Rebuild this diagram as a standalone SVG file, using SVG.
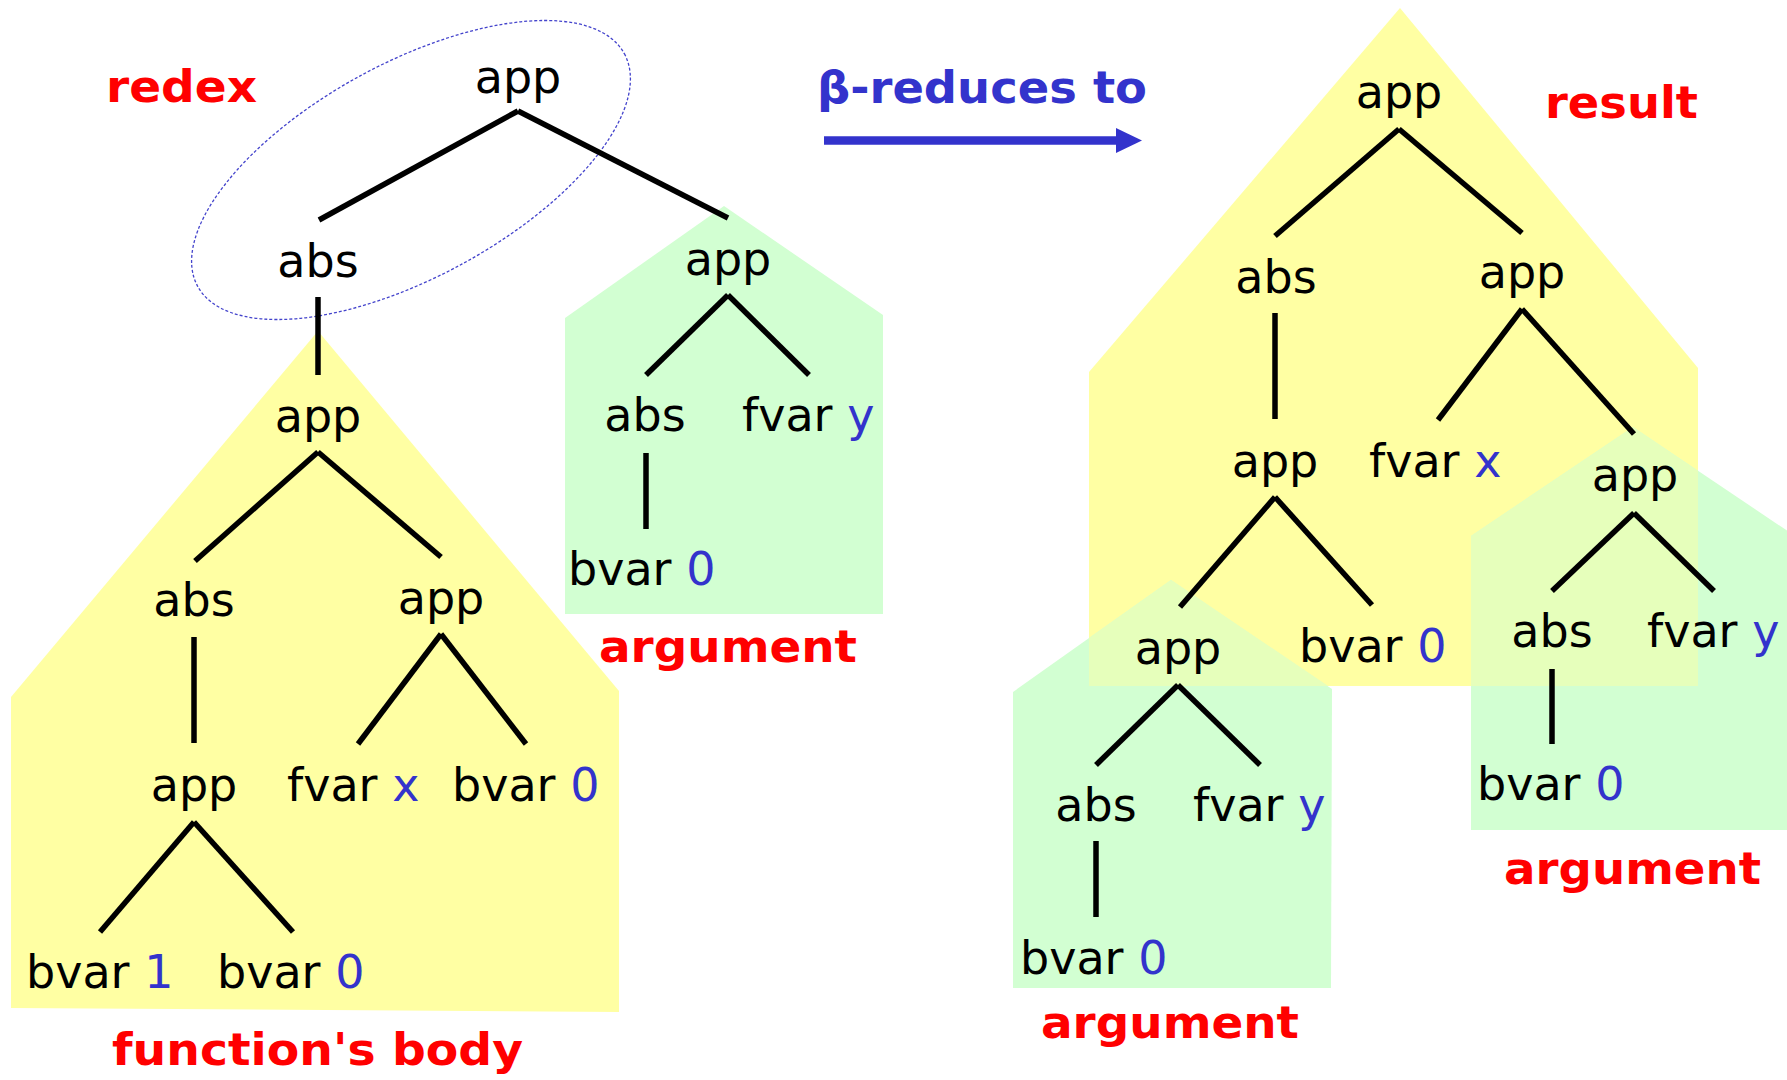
<svg xmlns="http://www.w3.org/2000/svg" width="1787" height="1080" viewBox="0 0 1787 1080">
  <style>
    .n { font-family: "DejaVu Sans", Verdana, sans-serif; font-size: 46px; fill: #000000; }
    .mid { text-anchor: middle; }
    .v { fill: #3333cc; }
    .lbl { font-family: "DejaVu Sans", Verdana, sans-serif; font-weight: bold; font-size: 44px; fill: #ff0000; }
    .blue { fill: #3333cc; }
    .e { stroke: #000000; stroke-width: 5.5; fill: none; }
    .yel { fill: #ffffa3; }
    .grn { fill: #d2ffd2; }
    .ovl { fill: #e6ffbb; }
  </style>
  <rect width="1787" height="1080" fill="#ffffff"/>

  <g id="regions">
    <polygon class="yel" points="318,331 619,691 619,1012 11,1008 11,697"/>
    <polygon class="grn" points="724,206 883,315 883,614 565,614 565,318"/>
    <polygon class="yel" points="1400,8 1698,368 1698,686 1089,686 1089,372"/>
    <polygon class="grn" points="1171,580 1332,689 1331,988 1013,988 1013,692"/>
    <polygon class="grn" points="1633,427 1795,536 1795,830 1471,830 1471,536"/>
    <polygon class="ovl" points="1471,536 1633,427 1698,471 1698,686 1471,686"/>
    <polygon class="ovl" points="1089,638 1171,580 1328,686 1089,686"/>
  </g>

  <g id="redex-ellipse">
    <ellipse cx="411" cy="170" rx="243" ry="107" transform="rotate(-28.6 411 170)" fill="none" stroke="#4444cc" stroke-width="1.3" stroke-dasharray="3 2"/>
  </g>

  <g id="connectors">
    <line class="e" x1="518" y1="111" x2="319" y2="220"/>
    <line class="e" x1="518" y1="111" x2="728" y2="218"/>
    <line class="e" x1="318" y1="297" x2="318" y2="375"/>
    <line class="e" x1="728" y1="295" x2="646" y2="375"/>
    <line class="e" x1="728" y1="295" x2="809" y2="375"/>
    <line class="e" x1="646" y1="453" x2="646" y2="529"/>
    <line class="e" x1="318" y1="452" x2="195" y2="561"/>
    <line class="e" x1="318" y1="452" x2="441" y2="557"/>
    <line class="e" x1="194" y1="637" x2="194" y2="743"/>
    <line class="e" x1="441" y1="634" x2="358" y2="744"/>
    <line class="e" x1="441" y1="634" x2="526" y2="744"/>
    <line class="e" x1="194" y1="822" x2="100" y2="932"/>
    <line class="e" x1="194" y1="822" x2="293" y2="932"/>

    <line class="e" x1="1399" y1="129" x2="1275" y2="236"/>
    <line class="e" x1="1399" y1="129" x2="1522" y2="233"/>
    <line class="e" x1="1275" y1="313" x2="1275" y2="419"/>
    <line class="e" x1="1522" y1="309" x2="1438" y2="420"/>
    <line class="e" x1="1522" y1="309" x2="1634" y2="434"/>
    <line class="e" x1="1275" y1="497" x2="1180" y2="607"/>
    <line class="e" x1="1275" y1="497" x2="1372" y2="605"/>
    <line class="e" x1="1178" y1="685" x2="1096" y2="765"/>
    <line class="e" x1="1178" y1="685" x2="1260" y2="765"/>
    <line class="e" x1="1096" y1="841" x2="1096" y2="917"/>
    <line class="e" x1="1634" y1="513" x2="1552" y2="591"/>
    <line class="e" x1="1634" y1="513" x2="1714" y2="591"/>
    <line class="e" x1="1552" y1="669" x2="1552" y2="744"/>

    <line x1="824" y1="140.5" x2="1118" y2="140.5" stroke="#3333cc" stroke-width="8.5"/>
    <polygon points="1116,128 1142,140.5 1116,153" fill="#3333cc"/>
  </g>

  <!-- left tree -->
  <g id="L-app-root"><text class="n mid" x="518" y="93">app</text></g>
  <g id="L-abs"><text class="n mid" x="318" y="277">abs</text></g>
  <g id="L-arg-app"><text class="n mid" x="728" y="275">app</text></g>
  <g id="L-arg-abs"><text class="n mid" x="645" y="431">abs</text></g>
  <g id="L-arg-fvar"><text class="n" x="742" y="431">fvar <tspan class="v">y</tspan></text></g>
  <g id="L-arg-bvar"><text class="n" x="568" y="585">bvar <tspan class="v">0</tspan></text></g>
  <g id="L-body-app"><text class="n mid" x="318" y="432">app</text></g>
  <g id="L-body-abs"><text class="n mid" x="194" y="616">abs</text></g>
  <g id="L-body-app2"><text class="n mid" x="441" y="614">app</text></g>
  <g id="L-body-app3"><text class="n mid" x="194" y="801">app</text></g>
  <g id="L-body-fvar"><text class="n" x="287" y="801">fvar <tspan class="v">x</tspan></text></g>
  <g id="L-body-bvar0"><text class="n" x="452" y="801">bvar <tspan class="v">0</tspan></text></g>
  <g id="L-body-bvar1"><text class="n" x="26" y="988">bvar <tspan class="v">1</tspan></text></g>
  <g id="L-body-bvar0b"><text class="n" x="217" y="988">bvar <tspan class="v">0</tspan></text></g>

  <!-- right tree -->
  <g id="R-app-root"><text class="n mid" x="1399" y="108">app</text></g>
  <g id="R-abs"><text class="n mid" x="1276" y="293">abs</text></g>
  <g id="R-app"><text class="n mid" x="1522" y="288">app</text></g>
  <g id="R-app2"><text class="n mid" x="1275" y="477">app</text></g>
  <g id="R-fvar-x"><text class="n" x="1369" y="477">fvar <tspan class="v">x</tspan></text></g>
  <g id="R-arg2-app"><text class="n mid" x="1635" y="491">app</text></g>
  <g id="R-arg1-app"><text class="n mid" x="1178" y="664">app</text></g>
  <g id="R-bvar0"><text class="n" x="1299" y="662">bvar <tspan class="v">0</tspan></text></g>
  <g id="R-arg1-abs"><text class="n mid" x="1096" y="821">abs</text></g>
  <g id="R-arg1-fvar"><text class="n" x="1193" y="821">fvar <tspan class="v">y</tspan></text></g>
  <g id="R-arg1-bvar"><text class="n" x="1020" y="974">bvar <tspan class="v">0</tspan></text></g>
  <g id="R-arg2-abs"><text class="n mid" x="1552" y="647">abs</text></g>
  <g id="R-arg2-fvar"><text class="n" x="1647" y="647">fvar <tspan class="v">y</tspan></text></g>
  <g id="R-arg2-bvar"><text class="n" x="1477" y="800">bvar <tspan class="v">0</tspan></text></g>

  <!-- labels -->
  <g id="label-redex"><text class="lbl" x="106" y="102" textLength="151" lengthAdjust="spacingAndGlyphs">redex</text></g>
  <g id="label-beta"><text class="lbl blue" x="817" y="103" textLength="330" lengthAdjust="spacingAndGlyphs">β-reduces to</text></g>
  <g id="label-result"><text class="lbl" x="1545" y="118" textLength="153" lengthAdjust="spacingAndGlyphs">result</text></g>
  <g id="label-argument1"><text class="lbl" x="599" y="662" textLength="258" lengthAdjust="spacingAndGlyphs">argument</text></g>
  <g id="label-body"><text class="lbl" x="112" y="1065" textLength="411" lengthAdjust="spacingAndGlyphs">function's body</text></g>
  <g id="label-argument2"><text class="lbl" x="1041" y="1038" textLength="258" lengthAdjust="spacingAndGlyphs">argument</text></g>
  <g id="label-argument3"><text class="lbl" x="1504" y="884" textLength="257" lengthAdjust="spacingAndGlyphs">argument</text></g>
</svg>
